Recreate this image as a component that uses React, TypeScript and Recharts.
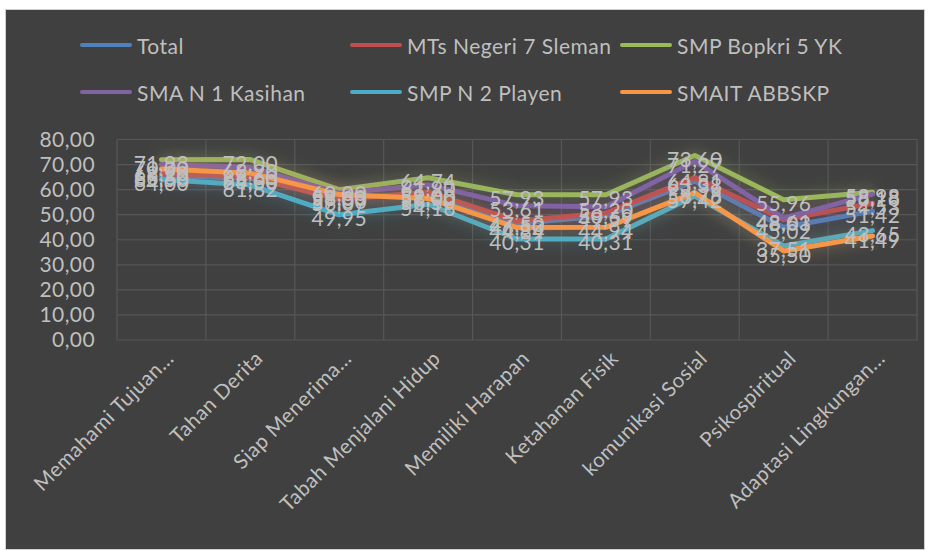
import React from 'react';
import { LineChart, Line, XAxis, YAxis, CartesianGrid, Legend, LabelList } from 'recharts';

const categories = [
  'Memahami Tujuan...',
  'Tahan Derita',
  'Siap Menerima...',
  'Tabah Menjalani Hidup',
  'Memiliki Harapan',
  'Ketahanan Fisik',
  'komunikasi Sosial',
  'Psikospiritual',
  'Adaptasi Lingkungan...',
];

const total = [65.5, 64.5, 57.0, 58.0, 46.5, 49.59, 63.38, 45.02, 51.42];
const mtsNegeri = [66.3, 65.0, 56.07, 59.0, 47.5, 50.69, 64.81, 48.03, 54.53];
const smpBopkri = [71.93, 72.0, 60.0, 64.74, 57.93, 57.93, 73.6, 55.96, 58.98];
const smaKasihan = [70.0, 68.9, 58.6, 61.9, 53.61, 53.2, 71.27, 48.61, 58.18];
const smpPlayen = [64.0, 61.82, 49.95, 54.16, 40.31, 40.31, 57.42, 37.51, 43.65];
const smait = [68.2, 66.6, 58.03, 56.5, 44.84, 44.94, 58.78, 35.5, 41.49];

const yTicks = [0, 10, 20, 30, 40, 50, 60, 70, 80];

const series = [
  { key: 'total', name: 'Total', color: '#4F81BD', values: total },
  { key: 'mts', name: 'MTs Negeri 7 Sleman', color: '#C0504D', values: mtsNegeri },
  { key: 'bopkri', name: 'SMP Bopkri 5 YK', color: '#9BBB59', values: smpBopkri },
  { key: 'kasihan', name: 'SMA N 1 Kasihan', color: '#8064A2', values: smaKasihan },
  { key: 'playen', name: 'SMP N 2 Playen', color: '#4BACC6', values: smpPlayen },
  { key: 'smait', name: 'SMAIT ABBSKP', color: '#F79646', values: smait },
];

const data = categories.map((name, i) => {
  const row: any = { name };
  series.forEach((s) => {
    row[s.key] = s.values[i];
  });
  return row;
});

const FONT = 'Lato, "Open Sans", sans-serif';
const TEXT = '#BFBFBF';

const fmt = (v: number) => v.toFixed(2).replace('.', ',');

const AngledTick = ({ x, y, payload }: any) => (
  <text
    x={x + 8}
    y={y + 6}
    transform={`rotate(-45, ${x + 8}, ${y + 6})`}
    textAnchor="end"
    dominantBaseline="central"
    fill={TEXT}
    fontSize={20.5}
    letterSpacing={0.5}
    fontFamily={FONT}
  >
    {payload.value}
  </text>
);

const ValueLabel = (props: any) => {
  const vb = props.viewBox || {};
  const x = props.x ?? vb.x;
  const y = props.y ?? vb.y;
  if (x == null || y == null || props.value == null) return null;
  return (
    <text
      x={x}
      y={y + 3}
      textAnchor="middle"
      dominantBaseline="central"
      fill={TEXT}
      fontSize={21}
      letterSpacing={0.4}
      fontFamily={FONT}
    >
      {fmt(Number(props.value))}
    </text>
  );
};

// legend laid out as in the original: 3 columns, 2 rows
const renderLegend = () => (
  <div style={{ position: 'relative', width: 931, height: 120 }}>
    {series.map((s, i) => {
      const col = i % 3;
      const row = Math.floor(i / 3);
      return (
        <div
          key={s.key}
          style={{
            position: 'absolute',
            left: 80 + col * 270,
            top: 45 + row * 47 - 14,
            height: 28,
            display: 'flex',
            alignItems: 'center',
            whiteSpace: 'nowrap',
          }}
        >
          <span
            style={{
              display: 'inline-block',
              width: 52,
              height: 4,
              borderRadius: 2,
              background: s.color,
              marginRight: 5,
            }}
          />
          <span style={{ color: TEXT, fontSize: 21, letterSpacing: 0.5, fontFamily: FONT }}>{s.name}</span>
        </div>
      );
    })}
  </div>
);

export default function App() {
  return (
    <div style={{ position: 'absolute', left: 0, top: 0, width: 931, height: 550, background: '#fff' }}>
      <div
        style={{
          position: 'absolute',
          left: 5,
          top: 9,
          width: 920,
          height: 541,
          background: '#404040',
          border: '1px solid #d0d0d0',
          boxSizing: 'border-box',
        }}
      />
      <div style={{ position: 'absolute', left: 0, top: 0 }}>
        <LineChart
          width={931}
          height={550}
          data={data}
          margin={{ top: 139.5, right: 14, left: 17, bottom: 10 }}
        >
          <defs>
            <filter id="glow" filterUnits="userSpaceOnUse" x={0} y={0} width={931} height={550}>
              <feGaussianBlur in="SourceGraphic" stdDeviation={8} result="blur" />
              <feComponentTransfer in="blur" result="soft">
                <feFuncA type="linear" slope={0.5} />
              </feComponentTransfer>
              <feMerge>
                <feMergeNode in="soft" />
                <feMergeNode in="SourceGraphic" />
              </feMerge>
            </filter>
          </defs>
          <CartesianGrid
            stroke="#575757"
            strokeWidth={1.2}
            verticalCoordinatesGenerator={({ offset }: any) =>
              categories.concat(['']).map((_, i) => offset.left + (i * offset.width) / categories.length)
            }
          />
          <XAxis
            dataKey="name"
            interval={0}
            axisLine={false}
            tickLine={false}
            height={200}
            padding={{ left: 800 / 18, right: 800 / 18 }}
            tick={<AngledTick />}
          />
          <YAxis
            domain={[0, 80]}
            ticks={yTicks}
            interval={0}
            width={100}
            axisLine={false}
            tickLine={false}
            tickMargin={16}
            tickFormatter={fmt}
            tick={{ fill: TEXT, fontSize: 21, letterSpacing: 0.4, fontFamily: FONT }}
          />
          <Legend
            layout="horizontal"
            verticalAlign="middle"
            align="center"
            wrapperStyle={{ left: 0, top: 0, width: 931, height: 120 }}
            content={renderLegend}
          />
          {series.map((s) => (
            <Line
              key={s.key}
              type="linear"
              dataKey={s.key}
              name={s.name}
              stroke={s.color}
              strokeWidth={5}
              strokeLinejoin="round"
              strokeLinecap="round"
              dot={false}
              filter="url(#glow)"
              isAnimationActive={false}
            >
              <LabelList dataKey={s.key} content={<ValueLabel />} />
            </Line>
          ))}
        </LineChart>
      </div>
    </div>
  );
}
